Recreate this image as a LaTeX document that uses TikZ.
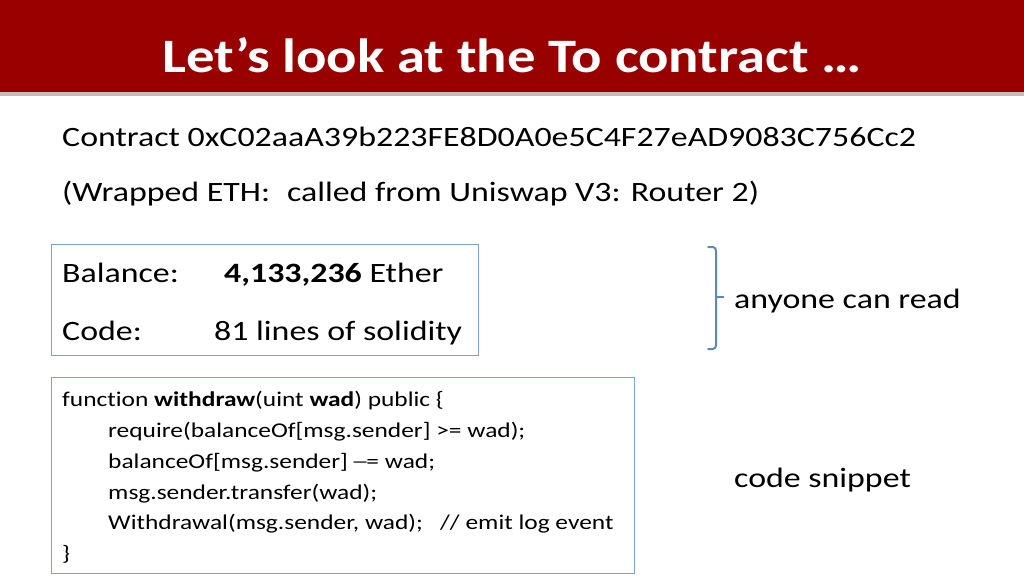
\documentclass[tikz,border=0pt]{standalone}
\usepackage{fontspec}
\setmainfont[Ligatures=NoCommon]{Carlito}
\definecolor{titlered}{HTML}{990000}
\definecolor{boxblue}{HTML}{7FA3C8}
\definecolor{bracketblue}{HTML}{5B89BC}
\newcommand\wide[1]{\scalebox{1.21}[1]{#1}}
\begin{document}
\begin{tikzpicture}[x=1pt,y=-1pt,
  body/.style={anchor=base west,inner sep=0pt,font=\fontsize{28}{32}\selectfont},
  code/.style={anchor=base west,inner sep=0pt,font=\fontsize{21}{24}\selectfont},
  panel/.style={draw=boxblue,line width=1pt}]
\useasboundingbox (0,0) rectangle (1024,576);
\fill[black!25] (0,3) rectangle (1024,96);
\fill[titlered] (0,0) rectangle (1024,92);
\node[text=white,font=\fontsize{48}{54}\bfseries\selectfont,inner sep=0pt,anchor=base] (title) at (512,72) {\scalebox{1.18}[1]{Let’s look at the To contract …}};
\node[body] (addr) at (62,146) {\wide{Contract 0xC02aaA39b223FE8D0A0e5C4F27eAD9083C756Cc2}};
\node[body] (wrap) at (62,201) {\wide{(Wrapped ETH:\hspace{0.5em}called from Uniswap V3: Router 2)}};
\draw[panel] (51,244) rectangle (478,355);
\node[body] (bal) at (62,282) {\wide{Balance:}};
\node[body] (balv) at (224,282) {\wide{\textbf{4,133,236} Ether}};
\node[body] (code) at (62,340) {\wide{Code:}};
\node[body] (codev) at (214,340) {\wide{81 lines of solidity}};
\draw[panel] (51,377) rectangle (634,573);
\node[code] (l1) at (62,406) {\wide{function \textbf{withdraw}(uint \textbf{wad}) public \{}};
\node[code] (l2) at (108,437) {\wide{require(balanceOf[msg.sender] >= wad);}};
\node[code] (l3) at (108,468) {\wide{balanceOf[msg.sender] ─= wad;}};
\node[code] (l4) at (108,499) {\wide{msg.sender.transfer(wad);}};
\node[code] (l5) at (108,529) {\wide{Withdrawal(msg.sender, wad);\ \ \ // emit log event}};
\node[code] (l6) at (62,560) {\wide{\}}};
\draw[bracketblue,line width=2pt,line cap=round] (708,247) -- (713,247) to[out=0,in=90] (716,251) -- (716,345) to[out=-90,in=0] (713,349) -- (708,349);
\draw[bracketblue,line width=1.5pt] (716,297) -- (724,297);
\node[body] (anyone) at (734,308) {\wide{anyone can read}};
\node[body] (snip) at (734,487) {\wide{code snippet}};
\end{tikzpicture}
\end{document}
